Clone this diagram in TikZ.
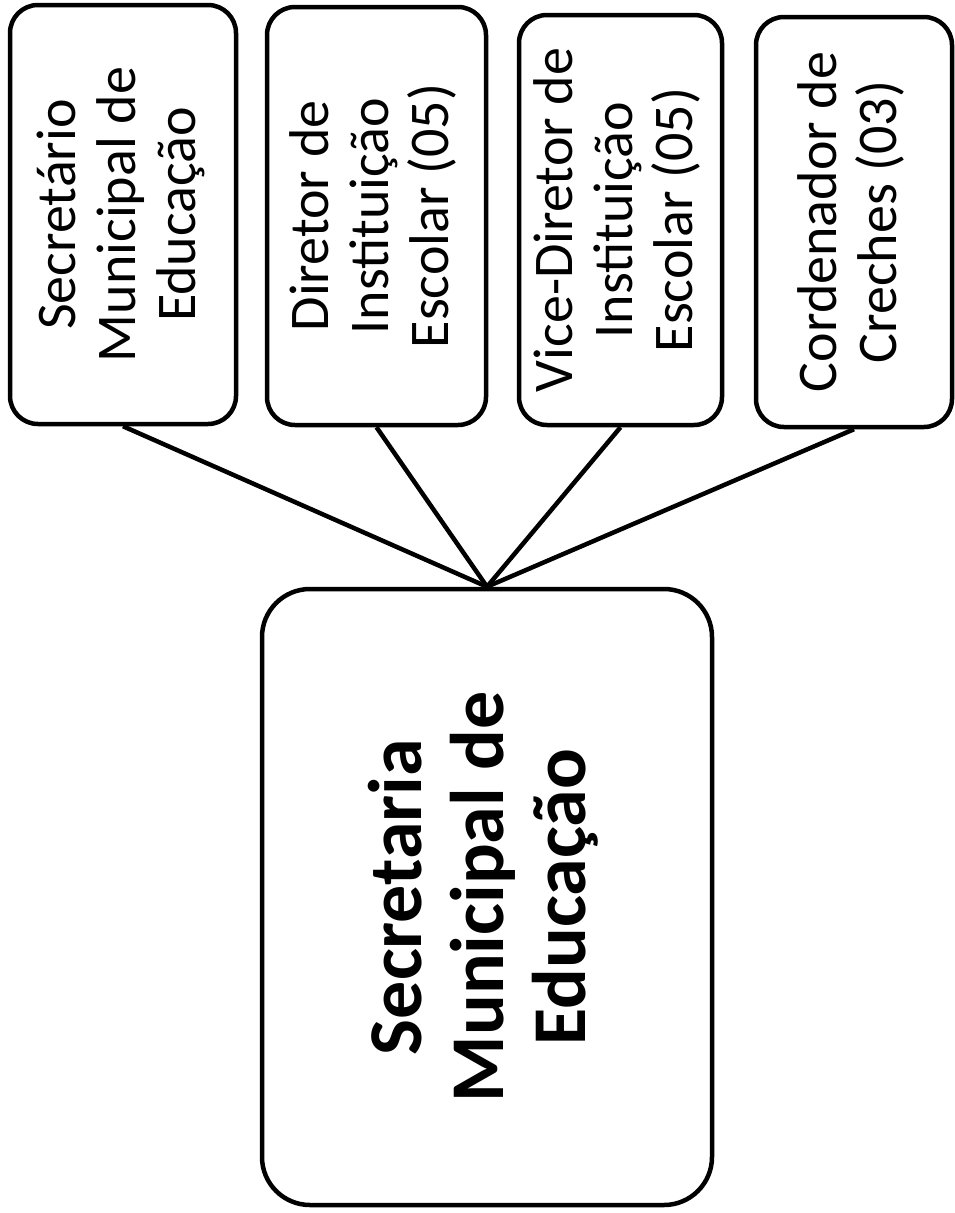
\documentclass[tikz,border=0pt]{standalone}
\usepackage{fontspec}
\setmainfont{Carlito}
\usepackage{graphicx}
\usepackage{tikz}

% texto girado, lido de baixo para cima
\newcommand{\vlines}[1]{\rotatebox{90}{\begin{tabular}{@{}c@{}}#1\end{tabular}}}

\begin{document}
\begin{tikzpicture}[x=1pt,y=-1pt,
    cargo/.style={draw=black, line width=4.5pt, rounded corners=28pt, inner sep=0pt,
      font=\fontsize{56}{60}\selectfont},
    orgao/.style={draw=black, line width=4.5pt, rounded corners=48pt, inner sep=0pt,
      font=\bfseries\fontsize{76}{82}\selectfont},
    elo/.style={black, line width=4.5pt}]
  \useasboundingbox (0,0) rectangle (954,1213);
  % cargos
  \node [cargo, minimum width=226pt, minimum height=419pt] (secretario) at (123,214.5)
    {\vlines{Secretário\\Municipal de\\Educação}};
  \node [cargo, minimum width=219pt, minimum height=418pt] (diretor) at (376.5,216)
    {\vlines{Diretor de\\Instituição\\Escolar (05)}};
  \node [cargo, minimum width=203pt, minimum height=410pt] (vicediretor) at (620.5,220)
    {\vlines{Vice-Diretor de\\Instituição\\Escolar (05)}};
  \node [cargo, minimum width=196pt, minimum height=410pt] (coordenador) at (854,222)
    {\vlines{Cordenador de\\Creches (03)}};
  % orgao
  \node [orgao, minimum width=450pt, minimum height=616pt] (sme) at (487,897)
    {\vlines{Secretaria\\Municipal de\\Educação}};
  % ligacoes
  \draw [elo] (secretario.south) -- (sme.north);
  \draw [elo] (diretor.south) -- (sme.north);
  \draw [elo] (vicediretor.south) -- (sme.north);
  \draw [elo] (coordenador.south) -- (sme.north);
\end{tikzpicture}
\end{document}
